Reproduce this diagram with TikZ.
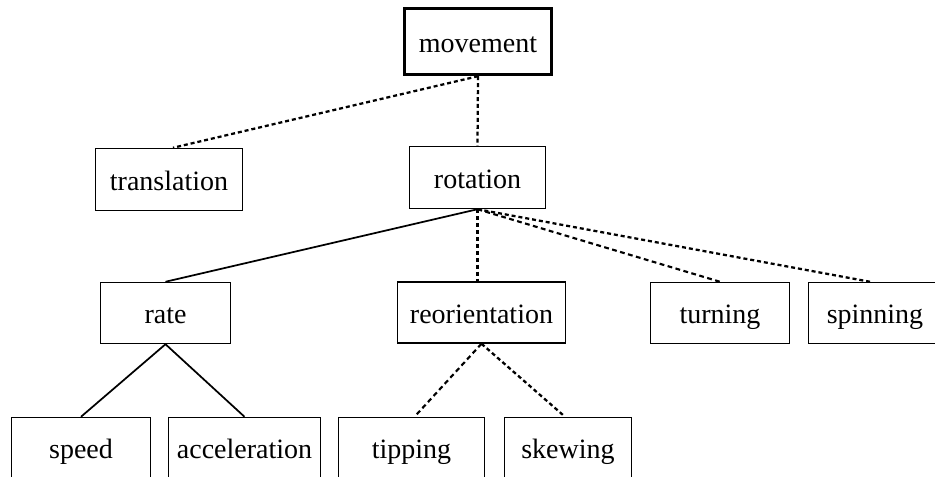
\documentclass[tikz,border=0pt]{standalone}
\usepackage{fontspec}
\setmainfont{Liberation Serif}
\def\px{0.75pt}
\tikzset{
  box/.style={draw, line width=1.1pt, inner sep=0pt, minimum height=61*\px,
    text height=17pt, text depth=1pt,
    font=\fontsize{21}{24}\selectfont},
  topbox/.style={box, line width=2.6pt},
  dotline/.style={line width=1.7pt, dash pattern=on 3pt off 2.2pt},
  dashline/.style={line width=1.6pt, dash pattern=on 3.6pt off 2.6pt},
  solidline/.style={line width=1.3pt}
}
\begin{document}
\begin{tikzpicture}[x=0.75pt,y=-0.75pt]
\clip (0,0) rectangle (935,477);
\fill[white] (0,0) rectangle (935,477);
\node[topbox, minimum width=147*\px, minimum height=66*\px] (movement) at (478,41.5) {movement};
\node[box, minimum width=136*\px, minimum height=62*\px] (rotation) at (477.5,177.5) {rotation};
\node[box, minimum width=147*\px, minimum height=62*\px] (translation) at (169,179.5) {translation};
\node[box, minimum width=130*\px] (rate) at (165.5,313) {rate};
\node[box, minimum width=168*\px] (reorientation) at (481.5,312.5) {reorientation};
\node[box, minimum width=139*\px] (turning) at (720,313) {turning};
\node[box, minimum width=133*\px] (spinning) at (875,313) {spinning};
\node[box, minimum width=139*\px] (speed) at (81,448) {speed};
\node[box, minimum width=152*\px] (acceleration) at (244.5,448) {acceleration};
\node[box, minimum width=146*\px] (tipping) at (411.5,448) {tipping};
\node[box, minimum width=127*\px] (skewing) at (568,448) {skewing};

\draw[dotline] (movement.south) -- ([xshift=4*\px]translation.north);
\draw[dotline] (movement.south) -- (rotation.north);
\draw[solidline] (rotation.south) -- (rate.north);
\draw[dotline] (rotation.south) -- ([xshift=-4*\px]reorientation.north);
\draw[dashline] (rotation.south) -- (turning.north);
\draw[dotline] (rotation.south) -- ([xshift=-5*\px]spinning.north);
\draw[solidline] (rate.south) -- (speed.north);
\draw[solidline] (rate.south) -- (acceleration.north);
\draw[dashline] (reorientation.south) -- ([xshift=3*\px]tipping.north);
\draw[dotline] (reorientation.south) -- ([xshift=-3*\px]skewing.north);
\end{tikzpicture}
\end{document}
